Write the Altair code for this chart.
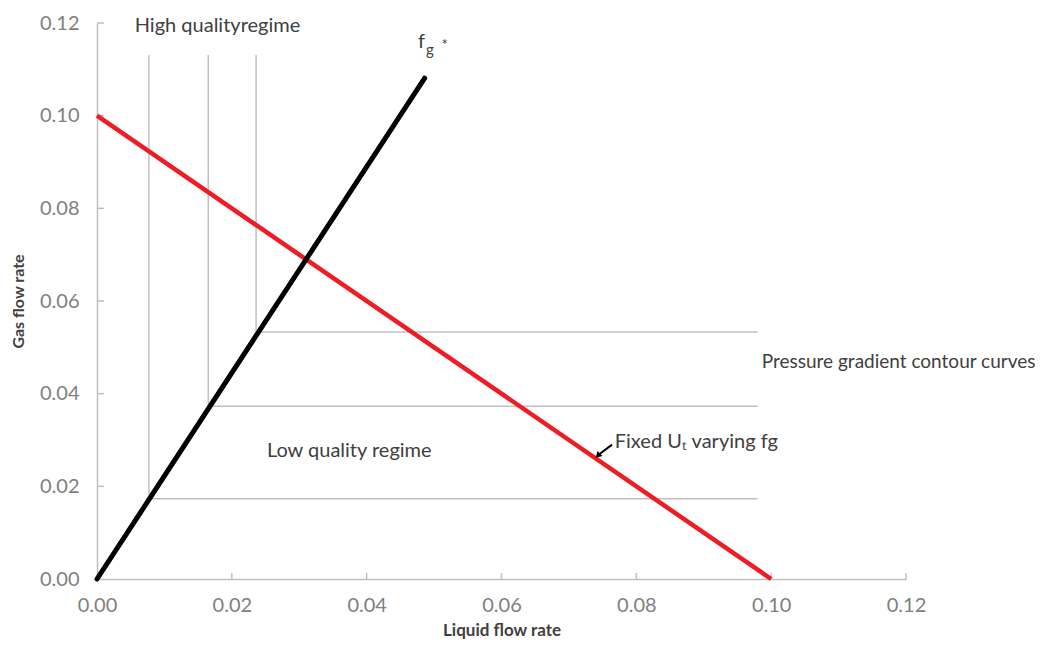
import altair as alt
import pandas as pd

# ---- data ----
red_x = [0.0, 0.10]
red_y = [0.10, 0.0]
black_x = [0.0, 0.0486]
black_y = [0.0, 0.1081]
contour_x = [0.0077, 0.0165, 0.0236]
contour_y = [0.0173, 0.0373, 0.0533]
contour_top = 0.1131
contour_end = 0.0980
tick_vals = [0.0, 0.02, 0.04, 0.06, 0.08, 0.10, 0.12]

label_text = ["High qualityregime", "Pressure gradient contour curves",
              "Low quality regime", "Fixed U\u209c varying fg"]
label_x = [0.0056, 0.0986, 0.0252, 0.0768]
label_y = [0.1194, 0.0468, 0.0276, 0.0296]
label_size = [20, 19, 20, 20]

fg_text = ["f", "g", "*"]
fg_x = [0.0476, 0.0488, 0.0511]
fg_y = [0.1159, 0.1141, 0.1152]
fg_size = [20, 15, 15]

arrow_x = [0.0764, 0.0744]
arrow_y = [0.0290, 0.0268]

FONT = "Lato"
TXT = "#404040"

xs = alt.Scale(domain=[0, 0.12], nice=False)
ys = alt.Scale(domain=[0, 0.12], nice=False)

# contours as L-shaped polylines
rows = []
for i, (cx, cy) in enumerate(zip(contour_x, contour_y)):
    rows += [
        {"c": i, "o": 0, "x": cx, "y": contour_top},
        {"c": i, "o": 1, "x": cx, "y": cy},
        {"c": i, "o": 2, "x": contour_end, "y": cy},
    ]
cont_df = pd.DataFrame(rows)

base_x = alt.X("x:Q", scale=xs, axis=alt.Axis(
    title="Liquid flow rate", values=tick_vals, format=".2f", grid=False,
    tickSize=0, labelPadding=16, labelFontSize=20, labelColor="#808080",
    labelFlush=False,
    labelFont=FONT, titleFont=FONT, titleFontSize=17, titleFontWeight="bold",
    titleColor=TXT, titlePadding=7, domainColor="#bfbfbf", domainWidth=1.5))
base_y = alt.Y("y:Q", scale=ys, axis=alt.Axis(
    title="Gas flow rate", values=tick_vals, format=".2f", grid=False,
    tickSize=0, labelPadding=18, labelFontSize=20, labelColor="#808080",
    labelFlush=False,
    labelFont=FONT, titleFont=FONT, titleFontSize=16, titleFontWeight="bold",
    titleColor=TXT, titlePadding=13, domainColor="#bfbfbf", domainWidth=1.5))

contours = alt.Chart(cont_df).mark_line(color="#c0c0c0", strokeWidth=1.5).encode(
    x=base_x, y=base_y, detail="c:N", order="o:Q")

red = alt.Chart(pd.DataFrame({"x": red_x, "y": red_y})).mark_line(
    color="#ee1c25", strokeWidth=4.5).encode(x=alt.X("x:Q", scale=xs), y=alt.Y("y:Q", scale=ys))

black = alt.Chart(pd.DataFrame({"x": black_x, "y": black_y})).mark_line(
    color="#000000", strokeWidth=5, strokeCap="round").encode(
    x=alt.X("x:Q", scale=xs), y=alt.Y("y:Q", scale=ys))

labels = alt.Chart(pd.DataFrame({"x": label_x, "y": label_y, "t": label_text,
                                 "s": label_size})).mark_text(
    align="left", baseline="middle", font=FONT, color=TXT).encode(
    x=alt.X("x:Q", scale=xs), y=alt.Y("y:Q", scale=ys), text="t:N",
    size=alt.Size("s:Q", scale=None, legend=None))

fg = alt.Chart(pd.DataFrame({"x": fg_x, "y": fg_y, "t": fg_text, "s": fg_size})).mark_text(
    align="left", baseline="middle", font=FONT, color=TXT).encode(
    x=alt.X("x:Q", scale=xs), y=alt.Y("y:Q", scale=ys), text="t:N",
    size=alt.Size("s:Q", scale=None, legend=None))

arrow_df = pd.DataFrame({"x": [arrow_x[0]], "y": [arrow_y[0]],
                         "x2": [arrow_x[1]], "y2": [arrow_y[1]]})
arrow_line = alt.Chart(arrow_df).mark_rule(color="black", strokeWidth=2).encode(
    x=alt.X("x:Q", scale=xs), y=alt.Y("y:Q", scale=ys), x2="x2:Q", y2="y2:Q")
arrow_head = alt.Chart(pd.DataFrame({"x": [arrow_x[1]], "y": [arrow_y[1]]})).mark_point(
    shape="triangle", filled=True, color="black", size=50, angle=225, opacity=1).encode(
    x=alt.X("x:Q", scale=xs), y=alt.Y("y:Q", scale=ys))

tdf = pd.DataFrame({"v": tick_vals[1:]})
xticks = alt.Chart(tdf).mark_rule(color="#bfbfbf", strokeWidth=1.5).encode(
    x=alt.X("v:Q", scale=xs), y=alt.value(556), y2=alt.value(550))
yticks = alt.Chart(tdf).mark_rule(color="#bfbfbf", strokeWidth=1.5).encode(
    y=alt.Y("v:Q", scale=ys), x=alt.value(0), x2=alt.value(7))

chart = alt.layer(contours, xticks, yticks, red, black, labels, fg, arrow_line, arrow_head).properties(
    width=809, height=556,
    background="white",
    autosize=alt.AutoSizeParams(type="none"),
    padding={"left": 89, "top": 15, "right": 129, "bottom": 62},
).configure_view(strokeWidth=0)

chart.save("out.html", embed_options={"renderer": "svg", "actions": False})
